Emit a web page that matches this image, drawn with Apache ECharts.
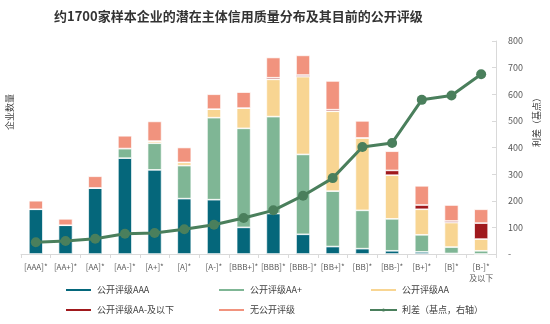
<!DOCTYPE html>
<html>
<head>
<meta charset="utf-8">
<script src="https://cdn.jsdelivr.net/npm/echarts@6/dist/echarts.min.js"></script>
<style>html,body{margin:0;padding:0;background:#fff;}#c{width:550px;height:324px;}</style>
</head>
<body>
<div id="c"></div>
<script>
const categories = ['[AAA]*','[AA+]*','[AA]*','[AA-]*','[A+]*','[A]*','[A-]*','[BBB+]*','[BBB]*','[BBB-]*','[BB+]*','[BB]*','[BB-]*','[B+]*','[B]*','[B-]*\n及以下'];
const ratedAAA   = [42, 27, 62, 90, 79, 52, 51, 25, 38, 18.5, 7, 5, 3, 2, 0.5, 0];
const ratedAAp   = [0, 0, 0, 9, 25, 31, 77, 93, 91, 75, 52, 36, 30, 16, 6, 3];
const ratedAA    = [0, 0, 0, 0, 2, 3, 8, 19, 35, 73, 75, 68, 41, 24, 23, 11];
const ratedAAm   = [0, 0, 0, 0, 0, 0, 0, 0, 1.5, 1.5, 1.5, 0, 4.5, 4, 1.5, 15];
const unrated    = [8, 6, 11, 12, 18.5, 14, 14, 15, 19, 18.5, 27, 16, 18, 18, 15, 13];
const spread     = [44, 49, 57, 76, 79, 93, 110, 135, 164, 219, 285, 402, 417, 579, 595, 675];
const rightTicks = [0, 100, 200, 300, 400, 500, 600, 700, 800];

const names = ['公开评级AAA','公开评级AA+','公开评级AA','公开评级AA-及以下','无公开评级','利差（基点，右轴）'];
const colors = ['#05677B','#7FB695','#F8D592','#A0191D','#F1937E','#4A7F5C'];
const font = '"Noto Sans CJK SC", "Noto Sans", sans-serif';

function barSeries(name, data, color) {
  return {
    name, type: 'bar', stack: 'total', data, barWidth: 14,
    itemStyle: { color, borderColor: '#ffffff', borderWidth: 0.7 },
    emphasis: { disabled: true }
  };
}

const legendPos = [[64, 284], [217, 284], [369, 284], [64, 304], [217, 304], [369, 304]];
const legends = names.map((n, i) => {
  const l = {
    left: legendPos[i][0], top: legendPos[i][1],
    itemWidth: 27, itemHeight: 4, padding: 0,
    textStyle: { fontSize: 9, color: '#404040', fontFamily: font, lineHeight: 12 },
    data: [n]
  };
  if (i < 5) l.icon = 'rect';
  return l;
});

const chart = echarts.init(document.getElementById('c'), null, { renderer: 'canvas' });
chart.setOption({
  animation: false,
  textStyle: { fontFamily: font },
  title: {
    text: '约1700家样本企业的潜在主体信用质量分布及其目前的公开评级',
    left: 49, top: 5,
    textStyle: { fontSize: 13, fontWeight: 'bold', color: '#333333', fontFamily: font }
  },
  legend: legends,
  grid: { left: 21, right: 54, top: 41, bottom: 70, containLabel: false },
  xAxis: {
    type: 'category', data: categories, boundaryGap: true,
    axisLine: { lineStyle: { color: '#d9d9d9' } },
    axisTick: { show: true, length: 4, lineStyle: { color: '#d9d9d9' } },
    axisLabel: { fontSize: 8, color: '#595959', interval: 0, margin: 7, lineHeight: 11 }
  },
  yAxis: [
    { type: 'value', min: 0, max: 200, interval: 25, show: false, splitLine: { show: false } },
    {
      type: 'value', position: 'right', min: 0, max: 800, interval: 100,
      axisLine: { show: true, lineStyle: { color: '#d9d9d9' } },
      axisTick: { show: true, inside: true, length: 4, lineStyle: { color: '#d9d9d9' } },
      splitLine: { show: false },
      axisLabel: { fontSize: 9, color: '#595959', margin: 12, formatter: v => v === 0 ? '-' : String(v) }
    }
  ],
  graphic: [
    { type: 'text', x: 10, y: 112, rotation: Math.PI / 2,
      style: { text: '企业数量', fontSize: 9, fill: '#404040', align: 'center', verticalAlign: 'middle', fontFamily: font } },
    { type: 'text', x: 537, y: 120, rotation: Math.PI / 2,
      style: { text: '利差（基点）', fontSize: 9, fill: '#404040', align: 'center', verticalAlign: 'middle', fontFamily: font } }
  ],
  series: [
    barSeries(names[0], ratedAAA, colors[0]),
    barSeries(names[1], ratedAAp, colors[1]),
    barSeries(names[2], ratedAA, colors[2]),
    barSeries(names[3], ratedAAm, colors[3]),
    barSeries(names[4], unrated, colors[4]),
    {
      name: names[5], type: 'line', yAxisIndex: 1, data: spread, z: 5,
      symbol: 'circle', symbolSize: 10,
      lineStyle: { color: colors[5], width: 3 },
      itemStyle: { color: colors[5] },
      emphasis: { disabled: true }
    }
  ]
});
</script>
</body>
</html>
